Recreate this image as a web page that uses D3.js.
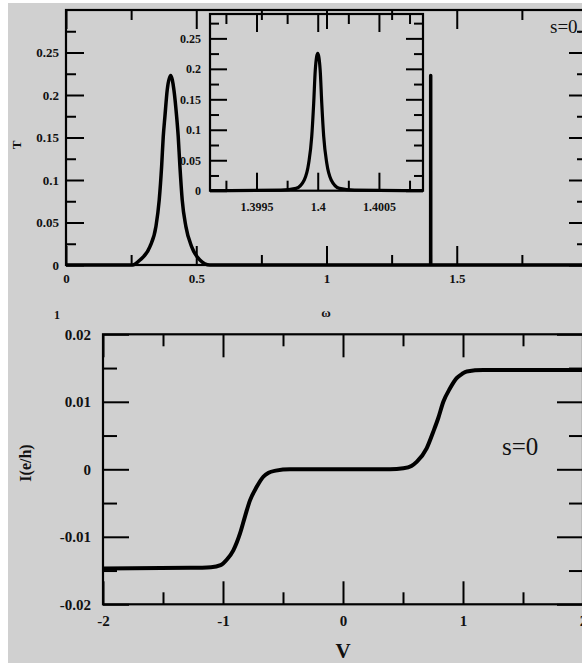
<!DOCTYPE html>
<html>
<head>
<meta charset="utf-8">
<script src="https://cdn.jsdelivr.net/npm/d3@7"></script>
<style>
  body { margin: 0; background: #fff; }
  svg { display: block; }
  text { font-family: 'Liberation Serif', 'Times New Roman', serif; fill: #111; }
</style>
</head>
<body>
<svg id="chart" width="582" height="663"></svg>
<script>
// top panel: transmission T(omega), main curve (peak near 0.4 and narrow spike at 1.4)
var topOmega = [0, 0.255, 0.2839, 0.3222, 0.3452, 0.3579, 0.3671, 0.3733, 0.3798, 0.3886, 0.4016,
  0.4143, 0.4246, 0.4308, 0.4373, 0.4461, 0.4603, 0.4822, 0.514, 0.5524, 1.3998, 1.4, 1.4002, 2];
var topT = [0, 0, 0.0059, 0.0216, 0.0452, 0.0767, 0.116, 0.151, 0.175, 0.206, 0.223,
  0.206, 0.175, 0.151, 0.116, 0.0767, 0.0452, 0.0216, 0.0059, 0, 0, 0.223, 0, 0];

// inset: zoom on the spike at 1.4
var insetOmega = [1.39912, 1.3997, 1.399823, 1.39989, 1.399926, 1.399951, 1.399967, 1.39998, 1.4,
  1.40002, 1.400033, 1.400049, 1.400074, 1.40011, 1.400177, 1.4003, 1.40086];
var insetT = [0, 0.001, 0.0039, 0.0176, 0.0449, 0.0886, 0.1434, 0.198, 0.2254,
  0.198, 0.1434, 0.0886, 0.0449, 0.0176, 0.0039, 0.001, 0];

// bottom panel: current I(V)
var volts = [-2, -1.275, -1.1, -1.02, -0.969, -0.914, -0.858, -0.817, -0.775, -0.719, -0.664, -0.62, -0.56, -0.442,
  0.392, 0.503, 0.57, 0.614, 0.697, 0.753, 0.794, 0.836, 0.892, 0.947, 0.99, 1.031, 1.169, 2];
var current = [-0.0147, -0.0146, -0.0145, -0.0142, -0.0134, -0.012, -0.0095, -0.007, -0.0046, -0.0026, -0.0011, -0.0005, -0.0002, 0,
  0, 0.00015, 0.0005, 0.0011, 0.0031, 0.0056, 0.0076, 0.01, 0.012, 0.0135, 0.0141, 0.0145, 0.0147, 0.0147];

// tick values
var topXMajor = [0, 0.5, 1, 1.5, 2], topXMinor = [0.25, 0.75, 1.25, 1.75];
var topXLabels = ['0', '0.5', '1', '1.5', ''];
var topYMajor = [0, 0.05, 0.1, 0.15, 0.2, 0.25], topYMinor = [0.025, 0.075, 0.125, 0.175, 0.225, 0.275];
var insXMajor = [1.3995, 1.4, 1.4005], insXMinor = [1.39925, 1.39975, 1.40025, 1.40075];
var insXLabels = ['1.3995', '1.4', '1.4005'];
var botXMajor = [-2, -1, 0, 1, 2], botXMinor = [-1.5, -0.5, 0.5, 1.5];
var botXLabels = ['-2', '-1', '0', '1', '2'];
var botYMajor = [-0.02, -0.01, 0, 0.01, 0.02], botYMinor = [-0.015, -0.005, 0.005, 0.015];
var botYLabels = ['-0.02', '-0.01', '0', '0.01', '0.02'];

var svg = d3.select('#chart');

// gray figure background
svg.append('rect').attr('x', 8).attr('y', 3).attr('width', 580).attr('height', 665).attr('fill', '#d0d0d0');

// draw a framed panel with inward ticks on all four sides
function panel(x, y, o) {
  var g = svg.append('g');
  var x0 = x.range()[0], x1 = x.range()[1], y0 = y.range()[0], y1 = y.range()[1];

  function ticks(axis, pos, vals, size, labels, pad, fs) {
    var a = axis.tickValues(vals).tickSize(-size).tickPadding(pad || 6)
      .tickFormat(labels ? function (d, i) { return labels[i]; } : '');
    var ag = g.append('g').attr('transform', pos).call(a);
    ag.select('.domain').remove();
    ag.selectAll('line').attr('stroke', '#000').attr('stroke-width', 2);
    ag.selectAll('text').attr('fill', '#111').style('font-size', (fs || 13) + 'px')
      .style('font-weight', 'bold').style('font-family', "'Liberation Serif', serif");
    return ag;
  }
  ticks(d3.axisBottom(x), 'translate(0,' + y0 + ')', o.xMajor, o.xMajLen, o.xLabels, o.xPad, o.fs);
  ticks(d3.axisBottom(x), 'translate(0,' + y0 + ')', o.xMinor, o.xMinLen);
  ticks(d3.axisTop(x), 'translate(0,' + y1 + ')', o.xMajor, o.xMajLen);
  ticks(d3.axisTop(x), 'translate(0,' + y1 + ')', o.xMinor, o.xMinLen);
  ticks(d3.axisLeft(y), 'translate(' + x0 + ',0)', o.yMajor, o.yMajLen, o.yLabels, o.yPad, o.fs);
  ticks(d3.axisLeft(y), 'translate(' + x0 + ',0)', o.yMinor, o.yMinLen);
  ticks(d3.axisRight(y), 'translate(' + x1 + ',0)', o.yMajor, o.yMajLen);
  ticks(d3.axisRight(y), 'translate(' + x1 + ',0)', o.yMinor, o.yMinLen);

  g.append('rect').attr('x', x0).attr('y', y1).attr('width', x1 - x0).attr('height', y0 - y1)
    .attr('fill', 'none').attr('stroke', '#000').attr('stroke-width', 2.2);
  return g;
}

function curve(x, y, xs, ys, w) {
  var line = d3.line().x(function (d) { return x(d[0]); }).y(function (d) { return y(d[1]); })
    .curve(d3.curveMonotoneX);
  svg.append('path').datum(d3.zip(xs, ys)).attr('d', line)
    .attr('fill', 'none').attr('stroke', '#000').attr('stroke-width', w)
    .attr('stroke-linejoin', 'round');
}

// ---- top panel
var xTop = d3.scaleLinear().domain([0, 2]).range([66, 587]);
var yTop = d3.scaleLinear().domain([0, 0.3]).range([265, 10]);
panel(xTop, yTop, {
  xMajor: topXMajor, xMinor: topXMinor, xLabels: topXLabels, xMajLen: 19, xMinLen: 10, xPad: 9,
  yMajor: topYMajor, yMinor: topYMinor, yLabels: topYMajor.map(String), yMajLen: 18, yMinLen: 10, yPad: 7,
  fs: 13
});
curve(xTop, yTop, topOmega, topT, 3.5);

// ---- inset
var xIns = d3.scaleLinear().domain([1.39912, 1.40086]).range([210, 423]);
var yIns = d3.scaleLinear().domain([0, 0.29]).range([190.7, 14]);
panel(xIns, yIns, {
  xMajor: insXMajor, xMinor: insXMinor, xLabels: insXLabels, xMajLen: 18, xMinLen: 10, xPad: 12,
  yMajor: topYMajor, yMinor: topYMinor, yLabels: topYMajor.map(String), yMajLen: 17, yMinLen: 9, yPad: 9,
  fs: 12
});
curve(xIns, yIns, insetOmega, insetT, 3.2);

// ---- bottom panel
var xBot = d3.scaleLinear().domain([-2, 2]).range([103, 583]);
var yBot = d3.scaleLinear().domain([-0.02, 0.02]).range([604.3, 334.3]);
panel(xBot, yBot, {
  xMajor: botXMajor, xMinor: botXMinor, xLabels: botXLabels, xMajLen: 23, xMinLen: 12, xPad: 11,
  yMajor: botYMajor, yMinor: botYMinor, yLabels: botYLabels, yMajLen: 26, yMinLen: 14, yPad: 12,
  fs: 15
});
curve(xBot, yBot, volts, current, 4);

// ---- axis titles and annotations
svg.append('text').attr('transform', 'translate(21,145) rotate(-90)').attr('text-anchor', 'middle')
  .style('font-size', '13px').style('font-weight', 'bold').text('T');
svg.append('text').attr('x', 326).attr('y', 317).attr('text-anchor', 'middle')
  .style('font-size', '13px').style('font-weight', 'bold').text('ω');
svg.append('text').attr('x', 57).attr('y', 319).attr('text-anchor', 'middle')
  .style('font-size', '12px').style('font-weight', 'bold').text('1');
svg.append('text').attr('x', 550).attr('y', 33)
  .style('font-size', '19px').text('s=0.');
svg.append('text').attr('transform', 'translate(31,463) rotate(-90)').attr('text-anchor', 'middle')
  .style('font-size', '16px').style('font-weight', 'bold').text('I(e/h)');
svg.append('text').attr('x', 343).attr('y', 658).attr('text-anchor', 'middle')
  .style('font-size', '21px').style('font-weight', 'bold').text('V');
svg.append('text').attr('x', 502).attr('y', 455)
  .style('font-size', '25px').text('s=0');
</script>
</body>
</html>
